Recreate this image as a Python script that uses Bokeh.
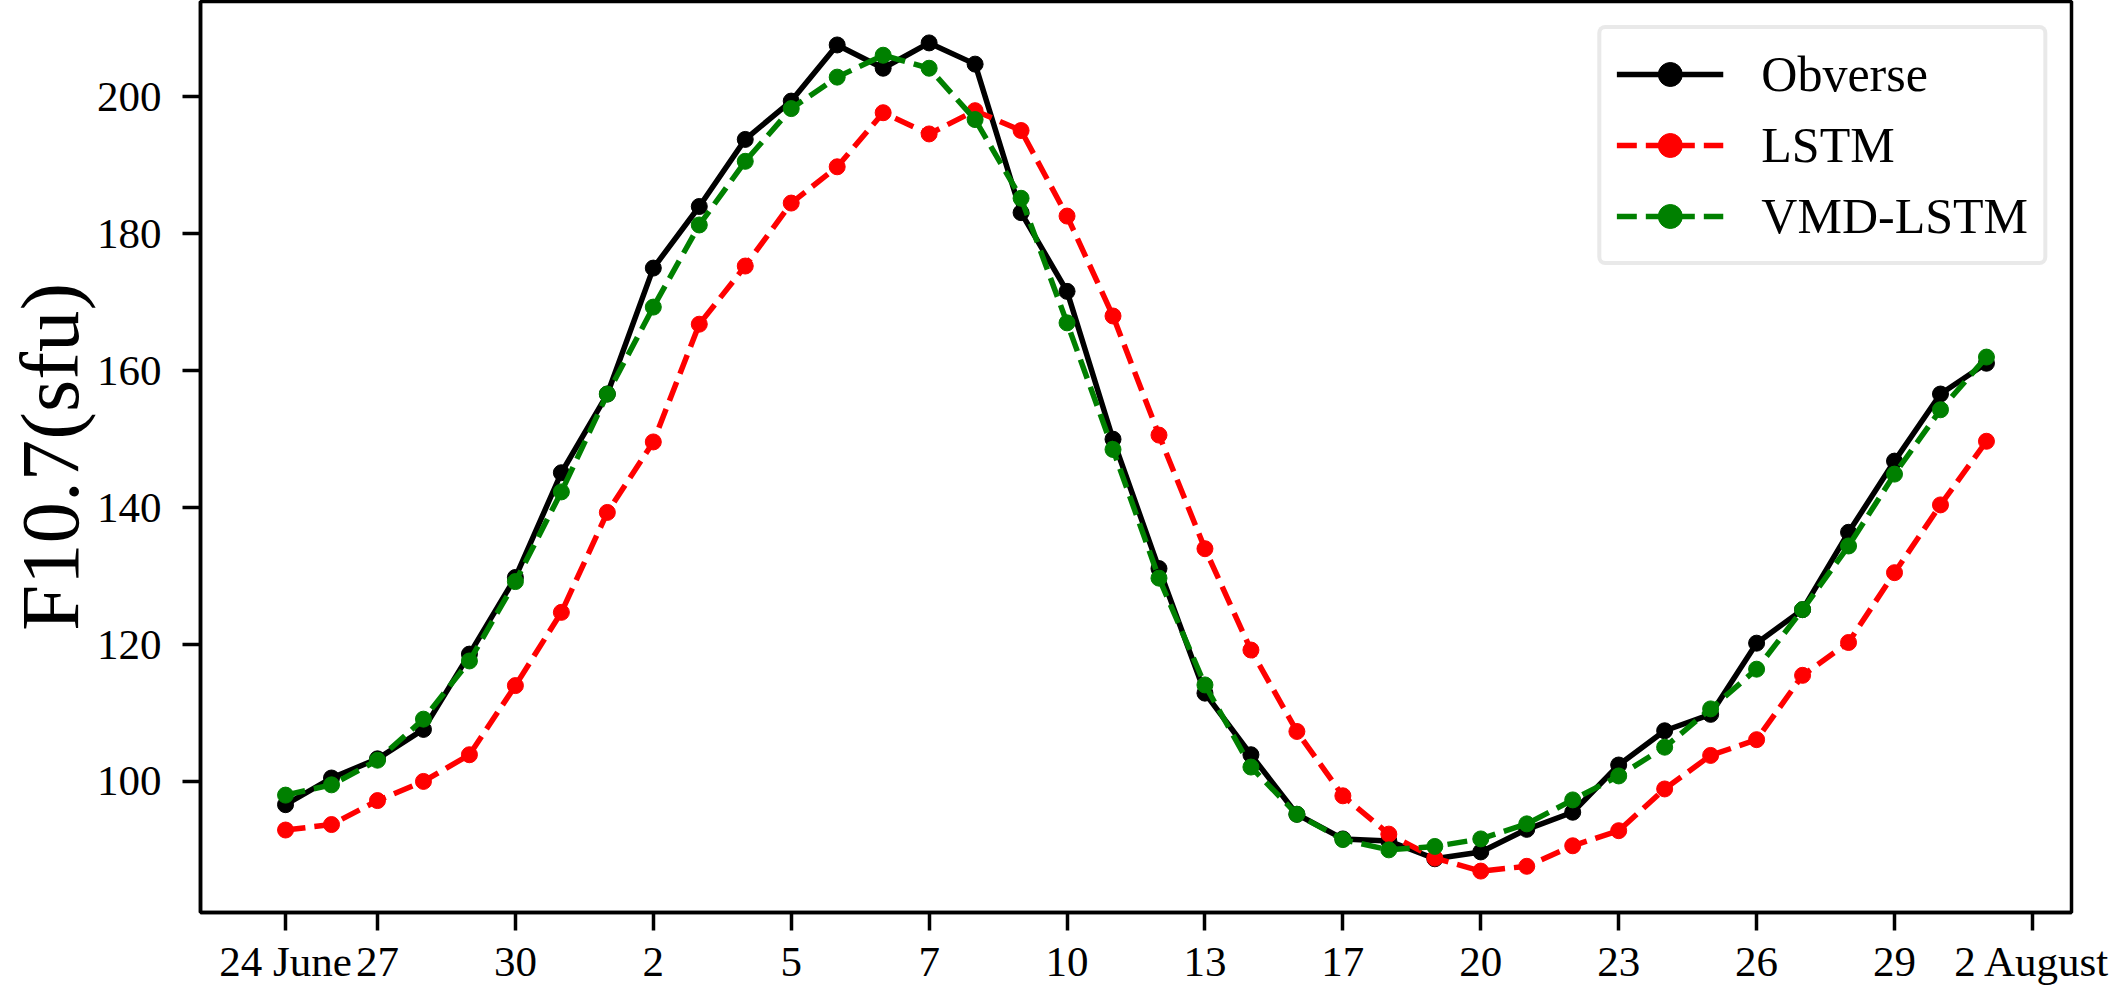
from bokeh.plotting import figure
from bokeh.models import Range1d, FixedTicker, Legend, LegendItem
from bokeh.embed import file_html
from bokeh.resources import INLINE

# ---- data ----
day_index = list(range(38))
obverse = [96.6, 100.5, 103.3, 107.6, 118.6, 129.8, 145.1, 156.6, 175.0, 184.0,
           193.8, 199.4, 207.6, 204.2, 207.9, 204.8, 183.1, 171.6, 150.0, 131.1,
           112.9, 103.9, 95.2, 91.6, 91.3, 88.7, 89.7, 93.0, 95.5, 102.4,
           107.4, 109.8, 120.2, 125.1, 136.4, 146.8, 156.6, 161.1]
lstm = [92.9, 93.7, 97.2, 100.0, 103.9, 114.0, 124.7, 139.3, 149.6, 166.8,
        175.3, 184.5, 189.8, 197.7, 194.6, 198.0, 195.1, 182.6, 168.0, 150.6,
        134.0, 119.2, 107.3, 97.9, 92.3, 88.8, 86.9, 87.6, 90.6, 92.8,
        98.9, 103.8, 106.1, 115.5, 120.3, 130.5, 140.4, 149.7]
vmd_lstm = [98.0, 99.5, 103.1, 109.1, 117.6, 129.2, 142.3, 156.6, 169.3, 181.3,
            190.6, 198.3, 202.9, 206.1, 204.2, 196.7, 185.2, 167.0, 148.5, 129.7,
            114.1, 102.1, 95.2, 91.5, 90.0, 90.5, 91.6, 93.8, 97.3, 100.8,
            105.0, 110.6, 116.4, 125.1, 134.4, 144.9, 154.3, 162.0]
series_names = ["Obverse", "LSTM", "VMD-LSTM"]
tick_positions = [0, 2, 5, 8, 11, 14, 17, 20, 23, 26, 29, 32, 35, 38]
tick_labels = ["24 June", "27", "30", "2", "5", "7", "10", "13", "17", "20",
               "23", "26", "29", "2 August"]
y_ticks = [100, 120, 140, 160, 180, 200]
y_title = "F10.7(sfu)"

# matplotlib-like 5% auto margins
x_lo, x_hi = min(day_index), max(day_index)
all_y = obverse + lstm + vmd_lstm
y_lo, y_hi = min(all_y), max(all_y)
xm = 0.05 * (x_hi - x_lo)
ym = 0.05 * (y_hi - y_lo)

FONT = "Liberation Serif"

p = figure(width=2112, height=987, output_backend="svg", toolbar_location=None,
           x_range=Range1d(x_lo - xm, x_hi + xm),
           y_range=Range1d(y_lo - ym, y_hi + ym),
           min_border_left=198, min_border_right=41, min_border_top=1,
           min_border_bottom=75)
p.grid.visible = False
p.outline_line_color = "black"
p.outline_line_width = 3.5
p.background_fill_color = "white"
p.border_fill_color = "white"

styles = [
    dict(color="black", dash="solid"),
    dict(color="#ff0000", dash="20 9"),
    dict(color="#008000", dash="20 9"),
]
items = []
for name, vals, st in zip(series_names, [obverse, lstm, vmd_lstm], styles):
    r_line = p.line(day_index, vals, line_color=st["color"], line_width=5.5,
                    line_dash=st["dash"])
    r_pts = p.scatter(day_index, vals, size=16, fill_color=st["color"],
                      line_color=st["color"])
    items.append(LegendItem(label=name, renderers=[r_line, r_pts]))

# axes
for ax in (p.xaxis[0], p.yaxis[0]):
    ax.axis_line_width = 3.5
    ax.axis_line_color = "black"
    ax.major_tick_line_width = 3.5
    ax.major_tick_line_color = "black"
    ax.major_tick_out = 18
    ax.major_tick_in = 0
    ax.minor_tick_out = 0
    ax.minor_tick_in = 0
    ax.major_label_text_font = FONT
    ax.major_label_text_font_size = "43px"
    ax.major_label_text_color = "black"

p.xaxis[0].ticker = FixedTicker(ticks=tick_positions)
p.xaxis[0].major_label_overrides = dict(zip(tick_positions, tick_labels))
p.xaxis[0].major_label_standoff = 7

p.yaxis[0].ticker = FixedTicker(ticks=y_ticks)
p.yaxis[0].major_label_standoff = 21
p.yaxis[0].axis_label = y_title
p.yaxis[0].axis_label_text_font = FONT
p.yaxis[0].axis_label_text_font_size = "83px"
p.yaxis[0].axis_label_text_font_style = "normal"
p.yaxis[0].axis_label_text_color = "black"
p.yaxis[0].axis_label_standoff = -2

legend = Legend(items=items, location="top_right")
legend.margin = 24
legend.padding = 15
legend.spacing = 11
legend.glyph_width = 107
legend.glyph_height = 60
legend.label_height = 60
legend.label_standoff = 38
legend.label_text_font = FONT
legend.label_text_font_size = "50px"
legend.label_text_color = "black"
legend.label_text_baseline = "middle"
legend.border_line_color = "#d4d4d4"
legend.border_line_width = 4
legend.background_fill_color = "white"
legend.background_fill_alpha = 1.0
if "border_radius" in Legend.properties():
    legend.border_radius = 8
p.add_layout(legend)

open("out.html", "w").write(file_html(p, INLINE))
